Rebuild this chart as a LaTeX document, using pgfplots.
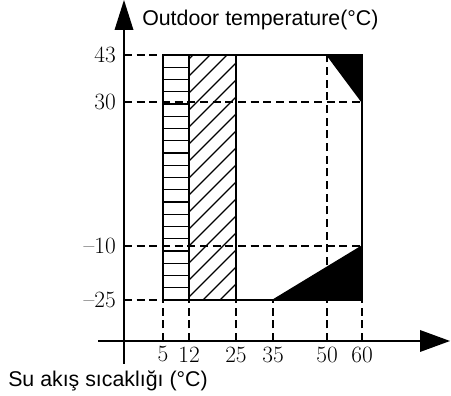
\documentclass[border=0pt]{standalone}
\usepackage{pgfplots}
\pgfplotsset{compat=1.18}
\usepackage{fontspec}
\newfontfamily\arialfont{Liberation Sans}
\begin{document}
\begin{tikzpicture}
\begin{axis}[
  x=0.75pt, y=0.75pt,
  xmin=-124, xmax=327, ymin=-55, ymax=341,
  axis lines=middle,
  axis line style={draw=none},
  clip=false,
  xtick={39,65,112,149,203,238},
  xticklabels={5,12,25,35,50,60},
  ytick={41,95,239,286},
  yticklabels={--25,--10,30,43},
  major tick length=0pt,
  tick style={draw=none},
  tick label style={font=\fontsize{17.5}{17.5}\selectfont, inner sep=2pt},
  xticklabel style={yshift=-2pt},
  yticklabel style={xshift=-4pt},
]
% bounding box of the whole picture
\path (axis cs:-124,-55) rectangle (axis cs:327,341);

% black regions
\addplot[fill=black, draw=black, line width=1pt] coordinates {(203,286) (238,286) (238,239) (203,286)};
\addplot[fill=black, draw=black, line width=1pt] coordinates {(149,41) (238,41) (238,95) (149,41)};

% horizontal hatching (5..12)
\pgfplotsinvokeforeach{53.25,65.5,77.75,90,102.25,114.5,126.75,139,151.25,163.5,175.75,188,200.25,212.5,224.75,237,249.25,261.5,273.75}{
  \draw[line width=1pt] (axis cs:39,#1) -- (axis cs:65,#1);
}
% diagonal hatching (12..25)
\pgfplotsinvokeforeach{55,38,21,4,-13,-30,-47,-64,-81,-98,-115,-132,-149,-166,-183,-200,-217}{
  \draw[line width=1pt] (axis cs:{max(41,65-(#1))+(#1)},{max(41,65-(#1))}) -- (axis cs:{min(286,112-(#1))+(#1)},{min(286,112-(#1))});
}

% dashed guide lines
\pgfplotsset{dashguide/.style={black, line width=1.1pt, dash pattern=on 6pt off 3.5pt}}
\addplot[dashguide] coordinates {(0,286) (39,286)};
\addplot[dashguide] coordinates {(0,41) (39,41)};
\addplot[dashguide] coordinates {(0,239) (238,239)};
\addplot[dashguide] coordinates {(0,95) (238,95)};
\addplot[dashguide] coordinates {(39,0) (39,41)};
\addplot[dashguide] coordinates {(65,0) (65,41)};
\addplot[dashguide] coordinates {(112,0) (112,41)};
\addplot[dashguide] coordinates {(149,0) (149,41)};
\addplot[dashguide] coordinates {(238,0) (238,41)};
\addplot[dashguide] coordinates {(203,0) (203,286)};

% solid region borders
\addplot[black, line width=1.2pt] coordinates {(39,41) (238,41) (238,286) (39,286) (39,41)};
\addplot[black, line width=1.2pt] coordinates {(65,41) (65,286)};
\addplot[black, line width=1.2pt] coordinates {(112,41) (112,286)};

% axes with arrowheads
\draw[line width=1.2pt] (axis cs:0,-23) -- (axis cs:0,312);
\fill (axis cs:-9.5,311) -- (axis cs:9.5,311) -- (axis cs:0,341) -- cycle;
\draw[line width=1.2pt] (axis cs:-26,0) -- (axis cs:297,0);
\fill (axis cs:296,-11) -- (axis cs:296,11) -- (axis cs:326,0) -- cycle;

% texts
\node[anchor=west, inner sep=0pt, font=\arialfont\fontsize{16}{16}\selectfont] at (axis cs:18,321) {Outdoor temperature(°C)};
\node[anchor=west, inner sep=0pt, font=\arialfont\fontsize{16}{16}\selectfont] at (axis cs:-116,-40) {Su akış sıcaklığı (°C)};
\end{axis}
\end{tikzpicture}
\end{document}
